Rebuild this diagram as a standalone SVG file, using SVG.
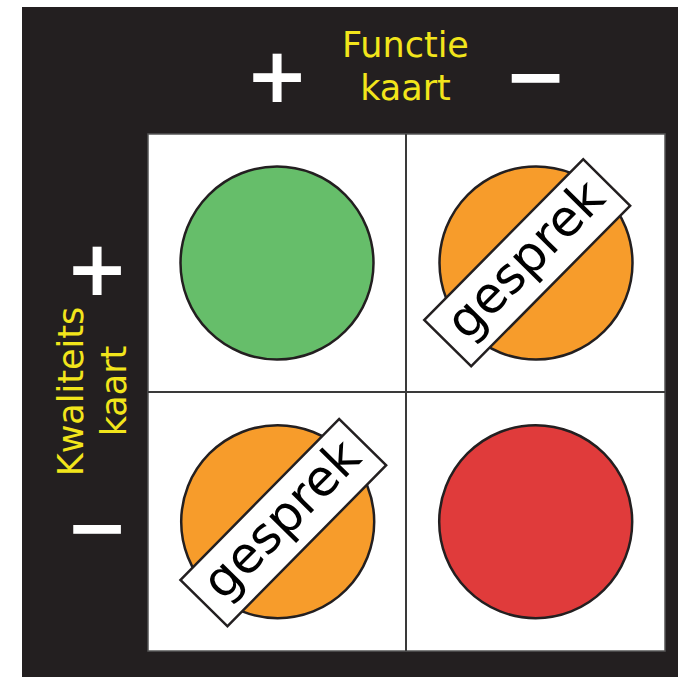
<svg xmlns="http://www.w3.org/2000/svg" width="678" height="677" viewBox="0 0 678 677">
<style>
  .lbl{font-family:"DejaVu Sans","Verdana",sans-serif;font-size:35px;fill:#f2e51b;text-anchor:middle}
  .sign{font-family:"DejaVu Sans",sans-serif;font-weight:bold;font-size:76px;fill:#ffffff;text-anchor:middle}
  .dot{stroke:#231f20;stroke-width:2.5}
  .tag{fill:#ffffff;stroke:#231f20;stroke-width:2.5}
  .tagtxt{font-family:"DejaVu Sans","Verdana",sans-serif;font-size:50px;fill:#000000;text-anchor:middle}
  .grid{stroke:#3a3a3a;stroke-width:2;fill:none}
</style>
<rect x="0" y="0" width="678" height="677" fill="#ffffff"/>
<rect x="22" y="7" width="656" height="670" fill="#231f20"/>

<g id="axis-top">
  <text class="lbl" x="405.5" y="57">Functie</text>
  <text class="lbl" x="405.5" y="100">kaart</text>
  <text class="sign" x="277" y="102">+</text>
  <text class="sign" x="535.5" y="102">−</text>
</g>
<g id="axis-left">
  <text class="lbl" transform="translate(83,391.5) rotate(-90)">Kwaliteits</text>
  <text class="lbl" transform="translate(126,391) rotate(-90)">kaart</text>
  <text class="sign" x="97" y="295">+</text>
  <text class="sign" x="97" y="553">−</text>
</g>

<g id="grid">
  <rect x="148" y="134" width="517" height="517" fill="#ffffff" stroke="#555" stroke-width="1.5"/>
  <line class="grid" x1="406" y1="134" x2="406" y2="651"/>
  <line class="grid" x1="148" y1="392" x2="665" y2="392"/>
</g>

<g id="cell-green">
  <circle class="dot" cx="277" cy="263" r="96.5" fill="#66be6a"/>
</g>
<g id="cell-orange-top">
  <circle class="dot" cx="536" cy="263" r="96.5" fill="#f79c2b"/>
  <g transform="translate(527.2,262.8) rotate(-45.3)">
    <rect class="tag" x="-113" y="-33" width="226" height="66"/>
    <text class="tagtxt" x="1" y="13">gesprek</text>
  </g>
</g>
<g id="cell-orange-bottom">
  <circle class="dot" cx="277.7" cy="521.7" r="96.5" fill="#f79c2b"/>
  <g transform="translate(283.3,522.6) rotate(-45.4)">
    <rect class="tag" x="-113" y="-33" width="226" height="66"/>
    <text class="tagtxt" x="1" y="13">gesprek</text>
  </g>
</g>
<g id="cell-red">
  <circle class="dot" cx="535.7" cy="521.7" r="96.5" fill="#e03b3b"/>
</g>
<g id="connectors"/>
</svg>
